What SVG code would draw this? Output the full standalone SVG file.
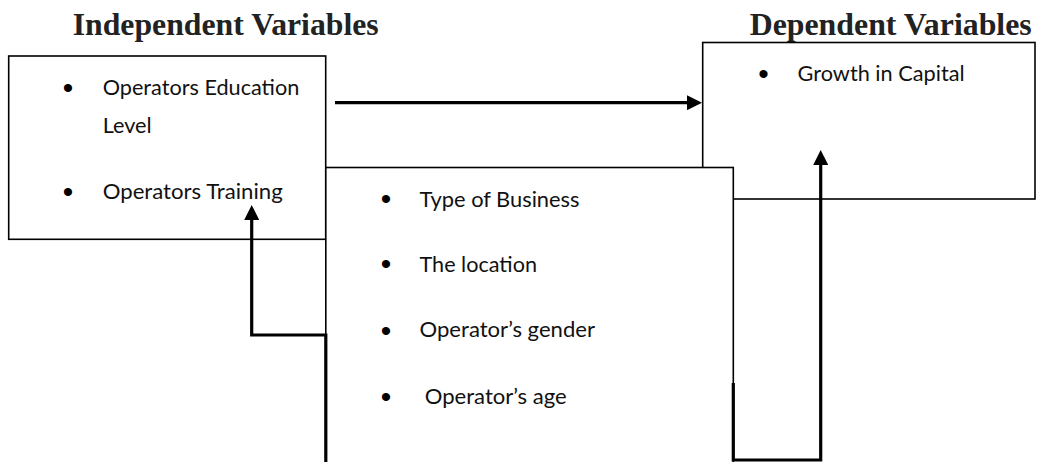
<svg xmlns="http://www.w3.org/2000/svg" width="1038" height="462" viewBox="0 0 1038 462">
<style>
.box{fill:#fff;stroke:#000;stroke-width:1.6}
.head{font-family:"Liberation Serif","Times New Roman",serif;font-weight:bold;font-size:31px;fill:#222}
.item{font-family:Lato,"Liberation Sans",sans-serif;font-size:21px;fill:#111}
.bul{font-family:"Liberation Sans",Arial,sans-serif;font-size:30px;fill:#000;text-anchor:middle}
.conn{fill:none;stroke:#000;stroke-width:3.2;stroke-linejoin:miter}
</style>
<defs>
<marker id="arr" viewBox="0 0 15 15" refX="1" refY="7.5" markerWidth="15" markerHeight="15" markerUnits="userSpaceOnUse" orient="auto">
<path d="M0,0 L15,7.5 L0,15 Z" fill="#000"/>
</marker>
</defs>
<rect width="1038" height="462" fill="#fff"/>
<text class="head" x="72.7" y="35" textLength="306" lengthAdjust="spacingAndGlyphs">Independent Variables</text>
<text class="head" x="749.7" y="35" textLength="282" lengthAdjust="spacingAndGlyphs">Dependent Variables</text>
<g id="independent">
<rect class="box" x="8.7" y="56" width="317" height="183.3"/>
<text class="bul" x="68" y="98">•</text>
<text class="item" x="102.7" y="95" textLength="196.6" lengthAdjust="spacingAndGlyphs">Operators Education</text>
<text class="item" x="102.7" y="133.3" textLength="49" lengthAdjust="spacingAndGlyphs">Level</text>
<text class="bul" x="68" y="202.2">•</text>
<text class="item" x="102.7" y="199.3" textLength="180" lengthAdjust="spacingAndGlyphs">Operators Training</text>
</g>
<g id="dependent">
<rect class="box" x="702.7" y="42.5" width="332.3" height="156.5"/>
<text class="bul" x="763.4" y="83.8">•</text>
<text class="item" x="797.6" y="81" textLength="167" lengthAdjust="spacingAndGlyphs">Growth in Capital</text>
</g>
<g id="moderating">
<rect class="box" x="325.8" y="167.5" width="407.5" height="310"/>
<text class="bul" x="386" y="208.8">•</text>
<text class="item" x="419.5" y="206.7" textLength="160" lengthAdjust="spacingAndGlyphs">Type of Business</text>
<text class="bul" x="386" y="273.8">•</text>
<text class="item" x="419.5" y="271.7" textLength="117.5" lengthAdjust="spacingAndGlyphs">The location</text>
<text class="bul" x="386" y="340.5">•</text>
<text class="item" x="419.5" y="337.3" textLength="175.5" lengthAdjust="spacingAndGlyphs">Operator’s gender</text>
<text class="bul" x="386" y="407.2">•</text>
<text class="item" x="424.7" y="404.3" textLength="142" lengthAdjust="spacingAndGlyphs">Operator’s age</text>
</g>
<g id="connectors">
<path class="conn" d="M335,102.7 H688" marker-end="url(#arr)"/>
<path class="conn" d="M325.8,462 V335 H251.7 V219" marker-end="url(#arr)"/>
<path class="conn" d="M733.3,383 V460 H820.7 V164" marker-end="url(#arr)"/>
</g>
</svg>
